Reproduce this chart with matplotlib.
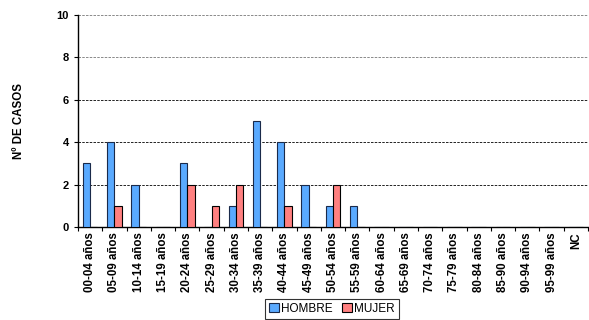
import numpy as np
import matplotlib.pyplot as plt

plt.rcParams['font.family'] = ['Liberation Sans', 'DejaVu Sans']

grupos = ['00-04 años', '05-09 años', '10-14 años', '15-19 años', '20-24 años',
          '25-29 años', '30-34 años', '35-39 años', '40-44 años', '45-49 años',
          '50-54 años', '55-59 años', '60-64 años', '65-69 años', '70-74 años',
          '75-79 años', '80-84 años', '85-90 años', '90-94 años', '95-99 años', 'NC']
hombre = [3, 4, 2, 0, 3, 0, 1, 5, 4, 2, 1, 1, 0, 0, 0, 0, 0, 0, 0, 0, 0]
mujer = [0, 1, 0, 0, 2, 1, 2, 0, 1, 0, 2, 0, 0, 0, 0, 0, 0, 0, 0, 0, 0]

fig = plt.figure(figsize=(5.89, 3.2), dpi=100)
ax = fig.add_axes([0.1324, 0.2906, 0.866, 0.6625])

x = np.arange(len(grupos))
w = 0.3
ax.bar(x - w / 2, hombre, w, color='#5aaaff', edgecolor='#1a2a4a', linewidth=0.8,
       label='HOMBRE', zorder=3)
ax.bar(x + w / 2, mujer, w, color='#ff8080', edgecolor='black', linewidth=0.8,
       label='MUJER', zorder=3)

ax.set_xlim(-0.5, len(grupos) - 0.5)
ax.set_ylim(0, 10)
ax.set_yticks(range(0, 11, 2))
ax.yaxis.grid(True, linestyle=(0, (3, 1.5)), color='black', linewidth=0.6)
for g in ax.yaxis.get_gridlines()[-2:]:
    g.set_color('#777777')

ax.set_xticks(x)
ax.set_xticklabels(grupos, rotation=90, fontsize=8.3, fontweight='bold')
ax.set_xticks(np.arange(len(grupos) + 1) - 0.5, minor=True)
ax.tick_params(axis='x', which='major', length=0, pad=4)
ax.tick_params(axis='x', which='minor', length=3, width=0.8)
ax.tick_params(axis='y', length=3, width=0.8, labelsize=8)
for t in ax.get_yticklabels():
    t.set_fontweight('bold')

for s in ['top', 'right']:
    ax.spines[s].set_visible(False)
ax.spines['left'].set_linewidth(1)
ax.spines['bottom'].set_linewidth(1)

ax.set_ylabel('Nº DE CASOS', fontsize=8.3, fontweight='bold', labelpad=23)

leg = fig.legend(loc='center', bbox_to_anchor=(332 / 589, 1 - 309 / 320), ncol=2,
                 fontsize=8.5, frameon=True, fancybox=False, edgecolor='black',
                 handlelength=0.8, handleheight=0.8, handletextpad=0.2,
                 columnspacing=0.8, borderpad=0.35)
leg.get_frame().set_linewidth(0.8)

fig.savefig('out.png', dpi=100)
